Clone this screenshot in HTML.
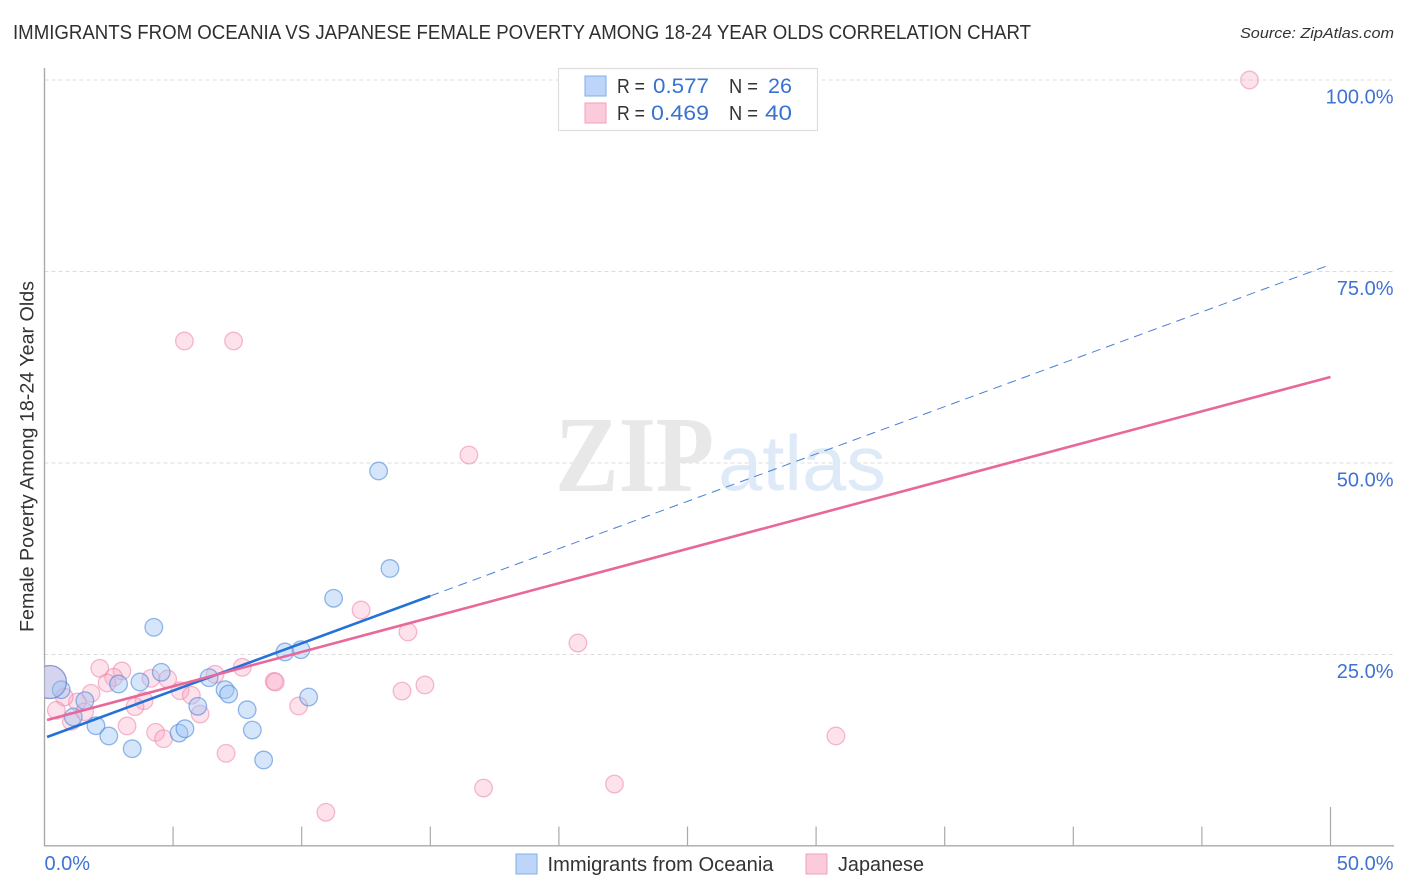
<!DOCTYPE html>
<html lang="en">
<head>
<meta charset="utf-8">
<title>Immigrants from Oceania vs Japanese Female Poverty Correlation Chart</title>
<style>
html,body{margin:0;padding:0;background:#fff;}
body{width:1406px;height:892px;overflow:hidden;}
svg{display:block;font-family:"Liberation Sans",sans-serif;}
</style>
</head>
<body>
<svg id="chart" width="1406" height="892" viewBox="0 0 1406 892" xmlns="http://www.w3.org/2000/svg">
  <defs>
    <clipPath id="plot-clip"><rect x="44.5" y="60" width="1350" height="786"></rect></clipPath>
  </defs>
  <text x="13" y="39" font-size="20" fill="#2f2f33" textLength="1018" lengthAdjust="spacingAndGlyphs">IMMIGRANTS FROM OCEANIA VS JAPANESE FEMALE POVERTY AMONG 18-24 YEAR OLDS CORRELATION CHART</text>
  <text x="1394" y="38" font-size="15" font-style="italic" fill="#333" text-anchor="end" textLength="154" lengthAdjust="spacingAndGlyphs">Source: ZipAtlas.com</text>
  <text transform="translate(33.5,632) rotate(-90)" font-size="19" fill="#333" textLength="351" lengthAdjust="spacingAndGlyphs">Female Poverty Among 18-24 Year Olds</text>

  <g id="grid-layer"></g>
  <g>
    <text x="555" y="491" font-family="'Liberation Serif',serif" font-weight="bold" font-size="108" fill="#e8e8e8" textLength="159" lengthAdjust="spacingAndGlyphs">ZIP</text>
    <text x="718" y="490" font-family="'Liberation Sans',sans-serif" font-size="78" fill="#dfeaf8" textLength="168" lengthAdjust="spacingAndGlyphs">atlas</text>
  </g>
  <g id="axis-layer"></g>
  <g id="points-layer" clip-path="url(#plot-clip)"></g>
  <rect x="20" y="658" width="23.8" height="55" fill="#fff"></rect>
  <g id="trend-layer"></g>

  <g>
    <rect x="558.5" y="68.5" width="259" height="62" fill="#fff" stroke="#dddddd" stroke-width="1.2"></rect>
    <rect x="585" y="76" width="21" height="20" fill="#bcd5f8" stroke="#82aee6" stroke-width="1"></rect>
    <rect x="585" y="103" width="21" height="20" fill="#fbcbdb" stroke="#f29fbb" stroke-width="1"></rect>
    <g font-size="20" fill="#333">
      <text x="617" y="93" textLength="28" lengthAdjust="spacingAndGlyphs">R =</text>
      <text x="653" y="93" font-size="21.5" fill="#3a72d2" textLength="56" lengthAdjust="spacingAndGlyphs">0.577</text>
      <text x="729" y="93" textLength="29" lengthAdjust="spacingAndGlyphs">N =</text>
      <text x="768" y="93" font-size="21.5" fill="#3a72d2" textLength="24" lengthAdjust="spacingAndGlyphs">26</text>
      <text x="617" y="120" textLength="28" lengthAdjust="spacingAndGlyphs">R =</text>
      <text x="651" y="120" font-size="21.5" fill="#3a72d2" textLength="58" lengthAdjust="spacingAndGlyphs">0.469</text>
      <text x="729" y="120" textLength="29" lengthAdjust="spacingAndGlyphs">N =</text>
      <text x="765" y="120" font-size="21.5" fill="#3a72d2" textLength="27" lengthAdjust="spacingAndGlyphs">40</text>
    </g>
  </g>

  <g>
    <rect x="516" y="854" width="21" height="20" fill="#bcd5f8" stroke="#82aee6" stroke-width="1"></rect>
    <text x="547.5" y="871" font-size="20" fill="#333" textLength="226" lengthAdjust="spacingAndGlyphs">Immigrants from Oceania</text>
    <rect x="806" y="854" width="21" height="20" fill="#fbcbdb" stroke="#f29fbb" stroke-width="1"></rect>
    <text x="838" y="871" font-size="20" fill="#333" textLength="86" lengthAdjust="spacingAndGlyphs">Japanese</text>
  </g>
</svg>
<script>
var xTickValues = [0, 5, 10, 15, 20, 25, 30, 35, 40, 45, 50];
var xEndLabels = ["0.0%", "50.0%"];
var yGridValues = [100, 75, 50, 25];
var yTickLabels = ["100.0%", "75.0%", "50.0%", "25.0%"];

var oceaniaX = [12.99, 13.43, 11.24, 4.25, 9.35, 9.97, 4.54, 6.40, 3.71, 2.88, 0.65, 1.57, 7.02, 7.16, 5.96, 7.88, 10.27, 1.12, 2.00, 2.50, 5.23, 5.46, 8.08, 3.41, 8.52, 0.21];
var oceaniaY = [48.96, 36.23, 32.34, 28.55, 25.33, 25.63, 22.68, 21.97, 21.41, 21.15, 20.40, 18.97, 20.40, 19.84, 18.24, 17.79, 19.45, 16.84, 15.70, 14.36, 14.75, 15.31, 15.14, 12.70, 11.23, 21.41];
var oceaniaWeight = [1, 1, 1, 1, 1, 1, 1, 1, 1, 1, 1, 1, 1, 1, 1, 1, 1, 1, 1, 1, 1, 1, 1, 1, 1, 2];

var japaneseX = [2.15, 3.01, 2.69, 2.43, 4.14, 4.79, 1.81, 1.28, 0.77, 6.63, 7.69, 5.27, 5.71, 3.87, 3.52, 1.56, 0.46, 1.04, 3.21, 4.32, 4.63, 6.05, 7.06, 8.93, 8.97, 9.88, 10.94, 12.31, 14.13, 13.90, 14.79, 20.74, 16.50, 5.44, 7.35, 46.85, 17.07, 22.16, 30.77, 0.21];
var japaneseY = [23.20, 22.85, 22.02, 21.28, 21.89, 21.80, 19.93, 18.80, 19.45, 22.42, 23.33, 20.27, 19.67, 18.97, 18.19, 17.53, 17.72, 16.28, 15.67, 14.84, 14.01, 17.23, 12.10, 21.50, 21.40, 18.28, 4.40, 30.81, 27.94, 20.23, 21.02, 26.50, 51.04, 65.93, 65.93, 100, 7.57, 8.09, 14.36, 21.41];
var japaneseWeight = [1, 1, 1, 1, 1, 1, 1, 1, 1, 1, 1, 1, 1, 1, 1, 1, 1, 1, 1, 1, 1, 1, 1, 1, 1, 1, 1, 1, 1, 1, 1, 1, 1, 1, 1, 1, 1, 1, 1, 2];

var oceaniaTrendX = [0.1, 15, 50];
var oceaniaTrendY = [14.23, 32.64, 75.9];
var japaneseTrendX = [0.1, 50];
var japaneseTrendY = [16.45, 61.23];

var NS = "http://www.w3.org/2000/svg";
function xScale(v) { return 44.5 + v * 25.72; }
function yScale(v) { return 846 - v * 7.66; }
function radius(w) { return w > 1 ? 16.5 : 8.8; }
function mk(tag, attrs, parent) {
  var el = document.createElementNS(NS, tag);
  for (var k in attrs) { el.setAttribute(k, attrs[k]); }
  parent.appendChild(el);
  return el;
}

var gridLayer = document.getElementById("grid-layer");
var axisLayer = document.getElementById("axis-layer");
var pointsLayer = document.getElementById("points-layer");
var trendLayer = document.getElementById("trend-layer");

yGridValues.forEach(function (v, i) {
  var line = mk("line", {x1: 44.5, x2: 1394, y1: yScale(v), y2: yScale(v), stroke: "#dcdcdc", "stroke-width": 1, "stroke-dasharray": "4 3"}, gridLayer);
  
  
  var label = mk("text", {x: 1393.5, y: yScale(v) + 23.5, "font-size": 20, fill: "#3f72d4", "text-anchor": "end"}, axisLayer);
  
  
  label.textContent = yTickLabels[i];
});

var yAxis = mk("line", {x1: 44.5, x2: 44.5, y1: 68, y2: 846.5, stroke: "#aaaaaa", "stroke-width": 1.4}, axisLayer);


var xAxis = mk("line", {x1: 44, x2: 1394, y1: 845.8, y2: 845.8, stroke: "#aaaaaa", "stroke-width": 1.4}, axisLayer);



xTickValues.forEach(function (v, i) {
  if (i === 0) { return; }
  var top = (i === xTickValues.length - 1) ? 807 : 826.5;
  var tick = mk("line", {x1: xScale(v), x2: xScale(v), y1: top, y2: 846, stroke: "#aaaaaa", "stroke-width": 1.2}, axisLayer);
  
  
});

var xLabelLeft = mk("text", {x: 44.5, y: 870, "font-size": 20, fill: "#3f72d4"}, axisLayer);


xLabelLeft.textContent = xEndLabels[0];
var xLabelRight = mk("text", {x: 1393.5, y: 870, "font-size": 20, fill: "#3f72d4", "text-anchor": "end"}, axisLayer);


xLabelRight.textContent = xEndLabels[1];

japaneseX.forEach(function (v, i) {
  var c = mk("circle", {cx: xScale(v), cy: yScale(japaneseY[i]), r: radius(japaneseWeight[i]), fill: "#f9a8c4", "fill-opacity": 0.34, stroke: "#ec7fa5", "stroke-opacity": 0.52, "stroke-width": 1.3}, pointsLayer);
  
  
});
oceaniaX.forEach(function (v, i) {
  var c = mk("circle", {cx: xScale(v), cy: yScale(oceaniaY[i]), r: radius(oceaniaWeight[i]), fill: "#9cc3f2", "fill-opacity": 0.42, stroke: "#3f7fd8", "stroke-opacity": 0.55, "stroke-width": 1.3}, pointsLayer);
  
  
});

var oceaniaDash = mk("line", {x1: xScale(oceaniaTrendX[1]), y1: yScale(oceaniaTrendY[1]), x2: xScale(oceaniaTrendX[2]), y2: yScale(oceaniaTrendY[2]), stroke: "#4a7fd6", "stroke-width": 1, "stroke-dasharray": "9 6"}, trendLayer);


var oceaniaSolid = mk("line", {x1: xScale(oceaniaTrendX[0]), y1: yScale(oceaniaTrendY[0]), x2: xScale(oceaniaTrendX[1]), y2: yScale(oceaniaTrendY[1]), stroke: "#2472d8", "stroke-width": 2.6}, trendLayer);


var japaneseSolid = mk("line", {x1: xScale(japaneseTrendX[0]), y1: yScale(japaneseTrendY[0]), x2: xScale(japaneseTrendX[1]), y2: yScale(japaneseTrendY[1]), stroke: "#e8689a", "stroke-width": 2.6}, trendLayer);


</script>
</body>
</html>
